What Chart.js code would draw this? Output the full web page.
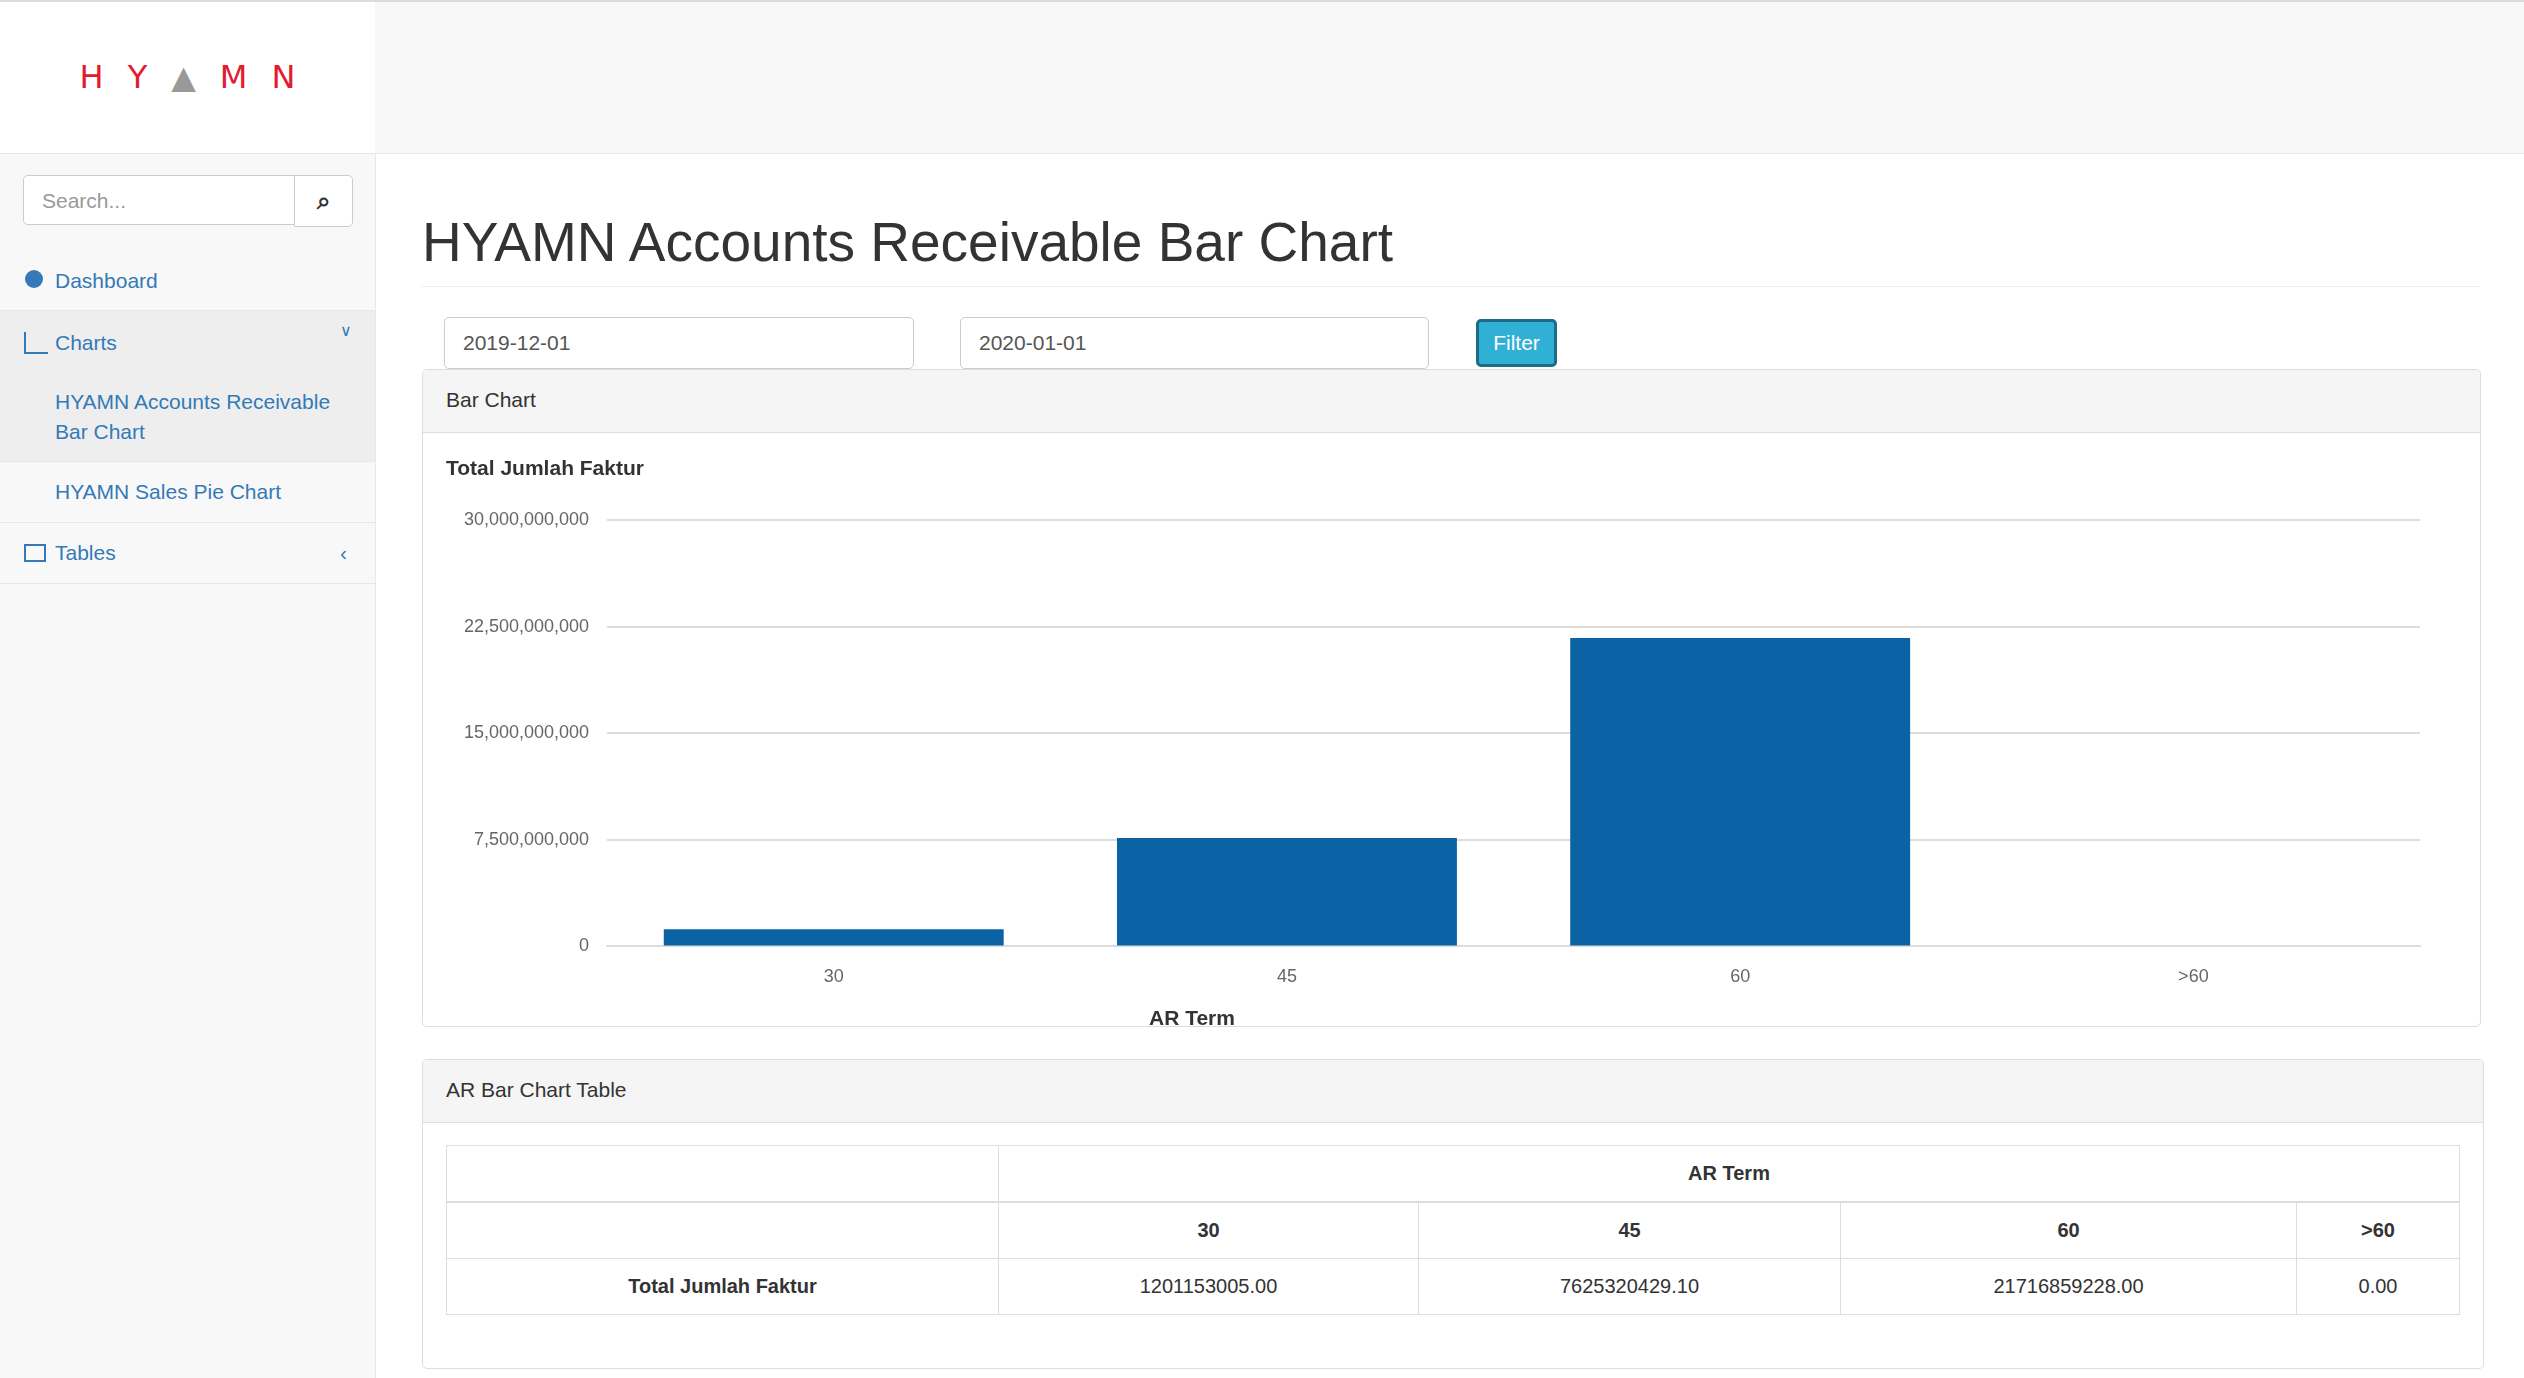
<!DOCTYPE html>
<html><head><meta charset="utf-8">
<script src="https://cdn.jsdelivr.net/npm/chart.js@4"></script>
<style>
body{margin:0;width:2524px;height:1378px;overflow:hidden;font-family:"Liberation Sans",Arial,sans-serif;background:#fff;position:relative;color:#333}
.abs{position:absolute}
#top{left:0;top:0;width:2524px;height:2px;background:#ddd}
#hdr{left:375px;top:2px;width:2149px;height:151px;background:#f8f8f8;border-bottom:1px solid #e7e7e7}
#logo{left:0;top:2px;width:375px;height:151px;background:#fff;border-bottom:1px solid #e7e7e7;text-align:center;line-height:151px;font-size:32px;letter-spacing:24px;text-indent:24px;white-space:nowrap;color:#e31b2e;font-family:"DejaVu Sans",sans-serif}
#side{left:0;top:154px;width:375px;height:1224px;background:#f8f8f8;border-right:1px solid #e7e7e7}
.search{left:23px;top:175px;height:50px;border:1px solid #ccc;border-radius:5px 0 0 5px;background:#fff;font-size:21px;color:#999;line-height:50px;padding-left:18px;box-sizing:border-box;width:272px}
.sbtn{left:294px;top:175px;width:59px;height:52px;border:1px solid #ccc;border-radius:0 5px 5px 0;background:#fff;box-sizing:border-box;text-align:center;line-height:50px;font-size:24px;font-weight:bold}
.row{left:0;width:375px;border-bottom:1px solid #e7e7e7;font-size:21px;color:#337ab7;box-sizing:border-box}
.inp{height:52px;border:1px solid #ccc;border-radius:5px;box-sizing:border-box;line-height:50px;padding-left:18px;font-size:21px;color:#555;background:#fff}
.panel{border:1px solid #ddd;border-radius:5px;box-sizing:border-box;background:#fff}
.ph{background:#f5f5f5;border-bottom:1px solid #ddd;height:62px;line-height:60px;padding-left:23px;font-size:21px;color:#333;border-radius:5px 5px 0 0}
table{border-collapse:collapse;font-size:20px}
td{border:1px solid #ddd;text-align:center;height:55px;padding:0}
</style></head><body>
<div id="top" class="abs"></div>
<div id="logo" class="abs">HY<span style="color:#999">&#x25B2;</span>MN</div>
<div id="hdr" class="abs"></div>
<div id="side" class="abs"></div>
<div class="abs search">Search...</div>
<div class="abs sbtn">&#x2315;</div>
<div class="abs row" style="top:251px;height:60px;line-height:60px;padding-left:55px">Dashboard</div>
<div class="abs row" style="top:311px;height:151px;background:#eee"><div style="position:absolute;left:55px;top:12px;line-height:40px">Charts</div><div style="position:absolute;left:340px;top:10px;font-size:16px;color:#337ab7">&#x2228;</div>
<div style="position:absolute;left:55px;top:76px;line-height:30px;width:300px">HYAMN Accounts Receivable<br>Bar Chart</div></div>
<div class="abs row" style="top:462px;height:61px;line-height:60px;padding-left:55px">HYAMN Sales Pie Chart</div>
<div class="abs row" style="top:523px;height:61px;line-height:60px;padding-left:55px">Tables<span style="position:absolute;left:340px">&lsaquo;</span></div>
<div class="abs" style="left:25px;top:270px;width:18px;height:18px;border-radius:50%;background:#337ab7"></div>
<div class="abs" style="left:24px;top:332px;width:22px;height:20px;border-left:2px solid #337ab7;border-bottom:2px solid #337ab7"></div>
<div class="abs" style="left:24px;top:544px;width:22px;height:18px;border:2px solid #337ab7;box-sizing:border-box"></div>
<div class="abs" style="left:422px;top:210px;font-size:55px;color:#333">HYAMN Accounts Receivable Bar Chart</div>
<div class="abs" style="left:422px;top:286px;width:2058px;height:1px;background:#eee"></div>
<div class="abs inp" style="left:444px;top:317px;width:470px">2019-12-01</div>
<div class="abs inp" style="left:960px;top:317px;width:469px">2020-01-01</div>
<div class="abs" style="left:1476px;top:319px;width:81px;height:48px;background:#31b0d5;border:3px solid #1b6d85;border-radius:5px;box-sizing:border-box;color:#fff;font-size:21px;text-align:center;line-height:42px">Filter</div>
<div class="abs panel" style="left:422px;top:369px;width:2059px;height:658px"><div class="ph">Bar Chart</div></div>
<div class="abs" style="left:446px;top:449px;width:2000px;height:559px"><canvas id="c"></canvas></div>
<div class="abs" style="left:1149px;top:1006px;font-size:21px;font-weight:bold;color:#333">AR Term</div>
<div class="abs panel" style="left:422px;top:1059px;width:2062px;height:310px"><div class="ph">AR Bar Chart Table</div></div>
<table class="abs" style="left:446px;top:1145px;width:2014px">
<tr><td style="width:551px"></td><td colspan="4" style="font-weight:bold">AR Term</td></tr>
<tr style="border-top:2px solid #ddd"><td></td><td style="width:419px;font-weight:bold">30</td><td style="width:421px;font-weight:bold">45</td><td style="width:455px;font-weight:bold">60</td><td style="font-weight:bold">&gt;60</td></tr>
<tr><td style="font-weight:bold">Total Jumlah Faktur</td><td>1201153005.00</td><td>7625320429.10</td><td>21716859228.00</td><td>0.00</td></tr>
</table>
<script>
const categories=["30","45","60",">60"];
const values=[1201153005.00,7625320429.10,21716859228.00,0];
const yTicks=[0,7500000000,15000000000,22500000000,30000000000];
new Chart(document.getElementById('c'),{type:'bar',
data:{labels:categories,datasets:[{label:'Total Jumlah Faktur',data:values,backgroundColor:'#0b63a6',barPercentage:0.75,categoryPercentage:1}]},
options:{responsive:true,maintainAspectRatio:false,animation:false,devicePixelRatio:1,
layout:{padding:{left:0,right:26,bottom:0}},
plugins:{legend:{display:false},tooltip:{enabled:false},
title:{display:true,text:'Total Jumlah Faktur',align:'start',color:'#333',font:{family:'Liberation Sans',size:21,weight:'bold'},padding:{top:8,bottom:38}}},
scales:{
x:{grid:{display:false,drawTicks:false},border:{color:'#ddd',width:2},ticks:{color:'#666',font:{family:'Liberation Sans',size:18},padding:20}},
y:{min:0,max:30000000000,afterBuildTicks:a=>{a.ticks=yTicks.map(v=>({value:v}));},
grid:{color:'#ddd',lineWidth:2,drawTicks:false},border:{display:false},
ticks:{color:'#666',font:{family:'Liberation Sans',size:18},padding:18,callback:v=>v.toLocaleString('en-US')}}}}});
</script>
</body></html>
